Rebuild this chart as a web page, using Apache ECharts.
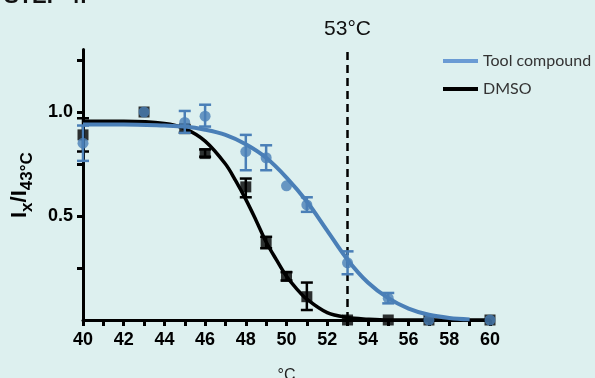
<!DOCTYPE html>
<html>
<head>
<meta charset="utf-8">
<script src="https://cdn.jsdelivr.net/npm/echarts@6/dist/echarts.min.js"></script>
<style>
  html, body { margin: 0; padding: 0; background: #ddf0ef; }
  #chart { width: 595px; height: 378px; }
</style>
</head>
<body>
<div id="chart"></div>
<script>
// measured points (temperature, mean, error low / high)
var temps = [40, 43, 45, 46, 48, 49, 50, 51, 53, 55, 57, 60];

var toolMean = [0.85, 1.0, 0.95, 0.98, 0.81, 0.78, 0.645, 0.553, 0.275, 0.105, 0.0, 0.0];
var toolLow  = [0.765, null, 0.90, 0.93, 0.72, 0.72, null, 0.52, 0.22, 0.08, null, null];
var toolHigh = [0.935, null, 1.005, 1.035, 0.89, 0.84, null, 0.59, 0.33, 0.13, null, null];

var dmsoMean = [0.89, 1.0, 0.92, 0.80, 0.64, 0.37, 0.21, 0.112, 0.0, 0.0, 0.0, 0.0];
var dmsoLow  = [0.81, null, 0.90, 0.785, 0.59, 0.345, 0.19, 0.048, null, null, null, null];
var dmsoHigh = [0.97, null, 0.935, 0.82, 0.68, 0.40, 0.23, 0.18, null, null, null, null];

// fitted curves
var toolFitX = [40, 42, 44, 45, 46, 47, 48, 49, 50, 51, 52, 53, 54, 55, 56, 57, 58, 59];
var toolFitY = [0.94, 0.94, 0.935, 0.93, 0.915, 0.89, 0.845, 0.78, 0.685, 0.57, 0.43, 0.29, 0.18, 0.105, 0.055, 0.025, 0.01, 0.003];

var dmsoFitX = [40, 42, 44, 45, 46, 47, 47.5, 48, 48.5, 49, 49.5, 50, 50.5, 51, 52, 53, 54, 55, 60];
var dmsoFitY = [0.955, 0.955, 0.945, 0.92, 0.86, 0.75, 0.67, 0.58, 0.48, 0.375, 0.29, 0.21, 0.15, 0.10, 0.035, 0.012, 0.004, 0.0, 0.0];

var xTicks = [40, 42, 44, 46, 48, 50, 52, 54, 56, 58, 60];
var yTicks = [0.25, 0.5, 0.75, 1.0, 1.25];
var yLabels = [0.5, 1.0];
var cutoff = 53;

var blue = '#4a7fb7';
var legendBlue = '#6a9bd4';

function pairs(xs, ys) {
    var out = [];
    for (var i = 0; i < xs.length; i++) out.push([xs[i], ys[i]]);
    return out;
}
function errs(lo, hi) {
    var out = [];
    for (var i = 0; i < temps.length; i++) {
        if (lo[i] != null) out.push([temps[i], lo[i], hi[i]]);
    }
    return out;
}
function errorBar(color) {
    return function (params, api) {
        var x = api.value(0);
        var top = api.coord([x, api.value(2)]);
        var bot = api.coord([x, api.value(1)]);
        var hw = 6;
        var st = { stroke: color, lineWidth: 2.5 };
        return {
            type: 'group',
            children: [
                { type: 'line', shape: { x1: top[0], y1: top[1], x2: bot[0], y2: bot[1] }, style: st },
                { type: 'line', shape: { x1: top[0] - hw, y1: top[1], x2: top[0] + hw, y2: top[1] }, style: st },
                { type: 'line', shape: { x1: bot[0] - hw, y1: bot[1], x2: bot[0] + hw, y2: bot[1] }, style: st }
            ]
        };
    };
}

var chart = echarts.init(document.getElementById('chart'));
var option = {
    backgroundColor: '#ddf0ef',
    animation: false,
    grid: { left: 83, right: 105, top: 49.6, bottom: 58, outerBoundsMode: 'none', containLabel: false },
    legend: {
        orient: 'vertical',
        left: 438,
        top: 48,
        icon: 'rect',
        itemWidth: 35,
        itemHeight: 4,
        itemGap: 12,
        textStyle: { fontFamily: 'Lato', fontSize: 16, color: '#333' },
        data: [
            { name: 'Tool compound', itemStyle: { color: legendBlue } },
            { name: 'DMSO', itemStyle: { color: '#000' } }
        ]
    },
    graphic: [
        {
            // page heading, cut off at the top edge
            type: 'text', x: 4, y: 8,
            style: {
                text: 'STEP 4:', fill: '#111',
                fontFamily: 'Liberation Sans', fontWeight: 'bold', fontSize: 22,
                verticalAlign: 'bottom'
            }
        },
        {
            type: 'text', x: 20, y: 218, rotation: Math.PI / 2,
            style: {
                text: '{m|I}{s|x}{m|/I}{s|43°C}',
                align: 'left', verticalAlign: 'middle',
                fill: '#000',
                rich: {
                    m: { fontFamily: 'Liberation Sans', fontWeight: 'bold', fontSize: 22, lineHeight: 32, verticalAlign: 'middle' },
                    s: { fontFamily: 'Liberation Sans', fontWeight: 'bold', fontSize: 17, lineHeight: 17, verticalAlign: 'bottom' }
                }
            }
        }
    ],
    xAxis: {
        type: 'value', min: 40, max: 60, interval: 1,
        name: '°C', nameLocation: 'middle', nameGap: 48,
        nameTextStyle: { fontFamily: 'Liberation Sans', fontSize: 16, color: '#222' },
        axisLine: { lineStyle: { color: '#000', width: 3 } },
        axisTick: { length: 6, lineStyle: { color: '#000', width: 3 } },
        axisLabel: {
            margin: 11, color: '#000', fontFamily: 'Liberation Sans', fontWeight: 'bold', fontSize: 18,
            customValues: xTicks
        },
        splitLine: { show: false }
    },
    yAxis: {
        type: 'value', min: 0, max: 1.3,
        axisLine: { show: true, lineStyle: { color: '#000', width: 3 } },
        axisTick: { show: true, length: 6, lineStyle: { color: '#000', width: 3 }, customValues: yTicks },
        axisLabel: {
            margin: 10, color: '#000', fontFamily: 'Liberation Sans', fontWeight: 'bold', fontSize: 18,
            customValues: yLabels,
            formatter: function (v) { return v.toFixed(1); }
        },
        splitLine: { show: false }
    },
    series: [
        {
            name: 'dmso-err', type: 'custom', z: 2,
            renderItem: errorBar('#000'), data: errs(dmsoLow, dmsoHigh)
        },
        {
            name: 'DMSO', type: 'line', z: 3, smooth: 0.35,
            showSymbol: false, symbol: 'none', color: '#000',
            lineStyle: { color: '#000', width: 3.5 },
            data: pairs(dmsoFitX, dmsoFitY)
        },
        {
            name: 'dmso-pts', type: 'scatter', z: 4, symbol: 'rect', symbolSize: 11,
            itemStyle: { color: '#000' },
            data: pairs(temps, dmsoMean)
        },
        {
            name: 'tool-err', type: 'custom', z: 5,
            renderItem: errorBar(blue), data: errs(toolLow, toolHigh)
        },
        {
            name: 'Tool compound', type: 'line', z: 6, smooth: 0.35,
            showSymbol: false, symbol: 'none', color: blue,
            lineStyle: { color: blue, width: 4 },
            data: pairs(toolFitX, toolFitY),
            markLine: {
                silent: true, symbol: 'none',
                lineStyle: { color: '#000', width: 2.5, type: [8, 5] },
                label: {
                    show: true, position: 'end', distance: 10,
                    formatter: '53°C', color: '#111',
                    fontFamily: 'Liberation Sans', fontSize: 21
                },
                data: [{ xAxis: cutoff }]
            }
        },
        {
            name: 'tool-pts', type: 'scatter', z: 7, symbol: 'circle', symbolSize: 11,
            itemStyle: { color: blue },
            data: pairs(temps, toolMean)
        }
    ]
};
chart.setOption(option);
</script>
</body>
</html>
